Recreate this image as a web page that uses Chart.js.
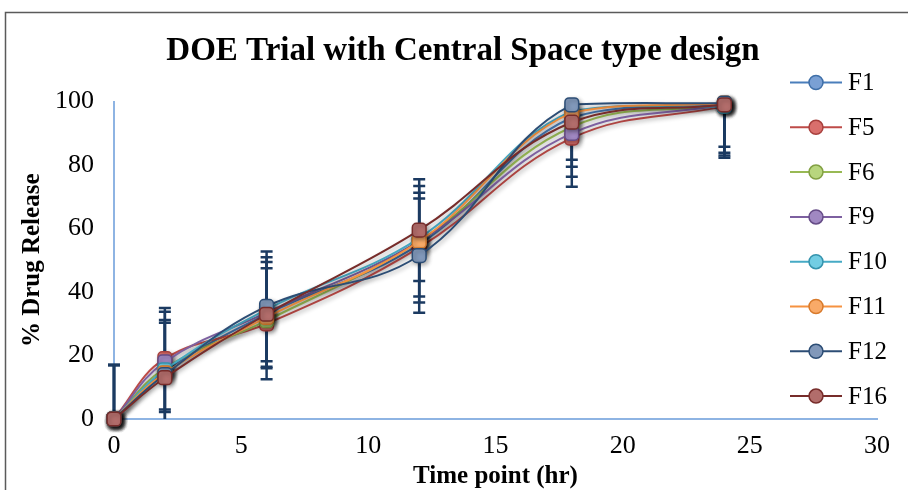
<!DOCTYPE html>
<html>
<head>
<meta charset="utf-8">
<title>DOE Trial with Central Space type design</title>
<script src="https://cdn.jsdelivr.net/npm/chart.js@4.4.1/dist/chart.umd.min.js"></script>
<style>
  body { margin: 0; background: #fff; }
  #wrap { width: 908px; height: 490px; }
</style>
</head>
<body>
<div id="wrap"><canvas id="releaseChart" width="908" height="490"></canvas></div>
<script>
// Time points (hr)
const timePoints = [0, 2, 6, 12, 18, 24];

// % drug release per formulation
const F1  = [0, 15,   33,   55,   95,   99];
const F5  = [0, 19,   30,   54,   88.5, 98.5];
const F6  = [0, 16,   31,   56,   92,   99];
const F9  = [0, 18,   33.5, 56,   90,   99];
const F10 = [0, 15.5, 34.5, 57,   97,   98.5];
const F11 = [0, 14.5, 32,   56,   96.5, 99.5];
const F12 = [0, 14,   35.5, 51.5, 99,   99.5];
const F16 = [0, 13,   33,   59.5, 93.5, 99];

// SD used for the error bars (only these four series have them)
const errF5  = [17, 16,   17.5, 17.3, 15.3, 15.5];
const errF9  = [17, 15.8, 17.5, 17.4, 13.7, 16.7];
const errF12 = [17, 17.2, 17.3, 18,   17.3, 13.7];
const errF16 = [17, 17.3, 16.5, 16,   14,   15.1];

const seriesNames = ['F1', 'F5', 'F6', 'F9', 'F10', 'F11', 'F12', 'F16'];
const seriesValues = [F1, F5, F6, F9, F10, F11, F12, F16];
const seriesErrors = [null, errF5, null, errF9, null, null, errF12, errF16];

// line colour, marker fill, marker border
const styles = [
  ['#4A7EBB', '#7AA0D4', '#3F6FA8'],
  ['#BE4B48', '#D96F6C', '#A8403D'],
  ['#98B954', '#B8D67E', '#82A043'],
  ['#7D60A0', '#A088C2', '#664C87'],
  ['#46AAC5', '#72CDE3', '#3593AD'],
  ['#F69240', '#F9AA68', '#D87A2B'],
  ['#2C4D75', '#8198BA', '#2C4D75'],
  ['#772C2A', '#B26D6B', '#772C2A']
];

const serif = 'Liberation Serif, Times New Roman, serif';

const datasets = seriesNames.map((name, i) => ({
  label: name,
  data: timePoints.map((t, j) => ({ x: t, y: seriesValues[i][j] })),
  errors: seriesErrors[i],
  borderColor: styles[i][0],
  borderWidth: 2,
  backgroundColor: styles[i][1],
  pointBackgroundColor: styles[i][1],
  pointBorderColor: styles[i][2],
  pointBorderWidth: 1.5,
  pointStyle: 'rectRounded',
  pointRadius: 8,
  tension: 0.4,
  clip: false,
  order: seriesNames.length - 1 - i
}));

// white page + frame round the chart
const frame = {
  id: 'frame',
  beforeDraw(chart) {
    const ctx = chart.ctx;
    ctx.save();
    ctx.fillStyle = '#fff';
    ctx.fillRect(0, 0, chart.width, chart.height);
    ctx.strokeStyle = '#5a5a5a';
    ctx.lineWidth = 1.5;
    ctx.strokeRect(5.5, 12.5, 1000, 1000);
    ctx.restore();
  }
};

// error bars, drawn under the lines and markers
const errorBars = {
  id: 'errorBars',
  beforeDatasetsDraw(chart) {
    const { ctx, chartArea, scales: { x, y } } = chart;
    ctx.save();
    ctx.beginPath();
    ctx.rect(chartArea.left - 12, chartArea.top, chartArea.width + 24, chartArea.height);
    ctx.clip();
    ctx.strokeStyle = '#1B3A61';
    ctx.lineWidth = 2.5;
    chart.data.datasets.forEach(ds => {
      if (!ds.errors) return;
      ds.data.forEach((p, i) => {
        const e = ds.errors[i];
        const px = x.getPixelForValue(p.x);
        const top = y.getPixelForValue(p.y + e);
        const bot = y.getPixelForValue(p.y - e);
        ctx.beginPath();
        ctx.moveTo(px, top); ctx.lineTo(px, bot);
        ctx.moveTo(px - 6, top); ctx.lineTo(px + 6, top);
        ctx.moveTo(px - 6, bot); ctx.lineTo(px + 6, bot);
        ctx.stroke();
      });
    });
    ctx.restore();
  }
};

// soft grey shadow like the Office chart effect
const shadow = {
  id: 'shadow',
  beforeDatasetDraw(chart) {
    const ctx = chart.ctx;
    ctx.save();
    ctx.shadowColor = 'rgba(0,0,0,0.3)';
    ctx.shadowBlur = 4;
    ctx.shadowOffsetX = 2;
    ctx.shadowOffsetY = 2;
  },
  afterDatasetDraw(chart) {
    chart.ctx.restore();
  }
};

// legend overlapping the right of the plot: line + circle marker + name
const sideLegend = {
  id: 'sideLegend',
  afterDraw(chart) {
    const ctx = chart.ctx;
    ctx.save();
    chart.data.datasets.forEach((ds, i) => {
      const cy = 82.5 + i * 44.8;
      ctx.strokeStyle = ds.borderColor;
      ctx.lineWidth = 2;
      ctx.beginPath();
      ctx.moveTo(790, cy); ctx.lineTo(842, cy);
      ctx.stroke();
      ctx.beginPath();
      ctx.arc(816, cy, 7, 0, Math.PI * 2);
      ctx.fillStyle = ds.pointBackgroundColor;
      ctx.fill();
      ctx.lineWidth = 1.5;
      ctx.strokeStyle = ds.pointBorderColor;
      ctx.stroke();
      ctx.fillStyle = '#000';
      ctx.font = '25px ' + serif;
      ctx.textBaseline = 'middle';
      ctx.textAlign = 'left';
      ctx.fillText(ds.label, 848, cy + 1);
    });
    ctx.restore();
  }
};

new Chart(document.getElementById('releaseChart'), {
  type: 'line',
  data: { datasets },
  plugins: [frame, errorBars, shadow, sideLegend],
  options: {
    responsive: false,
    animation: false,
    // left padding only shifts the title's centre to the right, as in the original
    layout: { padding: { left: 49, right: 31, top: 0, bottom: 0 } },
    plugins: {
      legend: { display: false },
      tooltip: { enabled: false },
      title: {
        display: true,
        text: 'DOE Trial with Central Space type design',
        color: '#000',
        font: { family: serif, size: 33, weight: 'bold' },
        padding: { top: 32, bottom: 30 }
      }
    },
    scales: {
      x: {
        type: 'linear',
        min: 0,
        max: 30,
        ticks: { stepSize: 5, padding: 12, color: '#000', font: { family: serif, size: 26 } },
        grid: { display: false, drawTicks: false },
        border: { color: '#8EB4E3', width: 2 },
        title: {
          display: true,
          text: 'Time point (hr)',
          color: '#000',
          font: { family: serif, size: 25, weight: 'bold' },
          padding: { top: 0, bottom: -2 }
        },
        afterFit(scale) { scale.height = 71; }
      },
      y: {
        min: 0,
        max: 100,
        ticks: { stepSize: 20, padding: 20, color: '#000', font: { family: serif, size: 26 } },
        grid: { display: false, drawTicks: false },
        border: { color: '#8EB4E3', width: 2 },
        title: {
          display: true,
          text: '% Drug Release',
          color: '#000',
          font: { family: serif, size: 25, weight: 'bold' },
          padding: { top: -31, bottom: 0 }
        },
        afterFit(scale) { scale.width = 65; }
      }
    }
  }
});
</script>
</body>
</html>
